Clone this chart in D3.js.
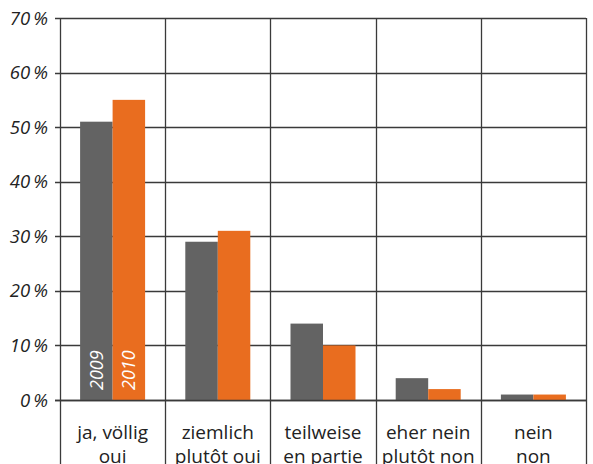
<!DOCTYPE html>
<html>
<head>
<meta charset="utf-8">
<script src="https://cdn.jsdelivr.net/npm/d3@7/dist/d3.min.js"></script>
<style>
  html, body { margin: 0; padding: 0; background: #fff; }
  svg { display: block; }
  text { font-family: "Open Sans", "DejaVu Sans", sans-serif; }
</style>
</head>
<body>
<svg id="chart" width="593" height="464"></svg>
<script>
// Survey answers (German / French) and shares per year
const categoriesDe = ["ja, völlig", "ziemlich", "teilweise", "eher nein", "nein"];
const categoriesFr = ["oui", "plutôt oui", "en partie", "plutôt non", "non"];
const years = ["2009", "2010"];
const values2009 = [51, 29, 14, 4, 1];
const values2010 = [55, 31, 10, 2, 1];
const yTicks = [0, 10, 20, 30, 40, 50, 60, 70];
const colors = ["#636363", "#e96d1f"];

const svg = d3.select("#chart");
const plotLeft = 60, plotRight = 586, plotTop = 18, plotBottom = 400;

const x = d3.scaleBand().domain(d3.range(categoriesDe.length)).range([plotLeft, plotRight]).paddingInner(0).paddingOuter(0);
const y = d3.scaleLinear().domain([0, 70]).range([plotBottom, plotTop]);
const barW = 32.5;

// Horizontal gridlines with tick marks to the left
const grid = svg.append("g");
grid.selectAll("line.h").data(yTicks).join("line")
  .attr("x1", plotLeft - 5).attr("x2", plotRight)
  .attr("y1", d => Math.round(y(d)) + 0.5).attr("y2", d => Math.round(y(d)) + 0.5)
  .attr("stroke", "#3a3a3a").attr("stroke-width", 1.3);

// Vertical category separators, running through the label area
const seps = d3.range(categoriesDe.length + 1).map(i => i < categoriesDe.length ? x(i) : plotRight);
grid.selectAll("line.v").data(seps).join("line")
  .attr("x1", d => Math.round(d) + 0.5).attr("x2", d => Math.round(d) + 0.5)
  .attr("y1", plotTop).attr("y2", 464)
  .attr("stroke", "#3a3a3a").attr("stroke-width", 1.3);

// Y axis labels
svg.append("g").selectAll("text").data(yTicks).join("text")
  .attr("x", 48).attr("y", d => y(d) + 6.5)
  .attr("text-anchor", "end")
  .attr("font-size", 18.5).attr("font-style", "italic").attr("fill", "#222")
  .text(d => d + "\u2009%");

// Bars
const series = [values2009, values2010];
const bars = svg.append("g");
series.forEach((vals, s) => {
  bars.selectAll("rect.s" + s).data(vals).join("rect")
    .attr("x", (d, i) => x(i) + x.bandwidth() / 2 - barW + s * barW)
    .attr("y", d => y(d))
    .attr("width", barW)
    .attr("height", d => y(0) - y(d))
    .attr("fill", colors[s]);
});

// Redraw the baseline above the bars
svg.append("line")
  .attr("x1", plotLeft - 5).attr("x2", plotRight)
  .attr("y1", Math.round(y(0)) + 0.5).attr("y2", Math.round(y(0)) + 0.5)
  .attr("stroke", "#3a3a3a").attr("stroke-width", 1.3);

// Year labels inside the first group's bars
years.forEach((yr, s) => {
  const cx = x(0) + x.bandwidth() / 2 - barW + s * barW + barW / 2;
  svg.append("text")
    .attr("transform", `translate(${cx + 6.5},${y(0) - 10}) rotate(-90)`)
    .attr("font-size", 18).attr("font-style", "italic").attr("fill", "#fff")
    .text(yr);
});

// Category labels, two lines
const labels = svg.append("g");
categoriesDe.forEach((c, i) => {
  const cx = x(i) + x.bandwidth() / 2;
  labels.append("text").attr("x", cx).attr("y", 439)
    .attr("text-anchor", "middle").attr("font-size", 19).attr("fill", "#222").text(c);
  labels.append("text").attr("x", cx).attr("y", 463)
    .attr("text-anchor", "middle").attr("font-size", 19).attr("fill", "#222").text(categoriesFr[i]);
});
</script>
</body>
</html>
